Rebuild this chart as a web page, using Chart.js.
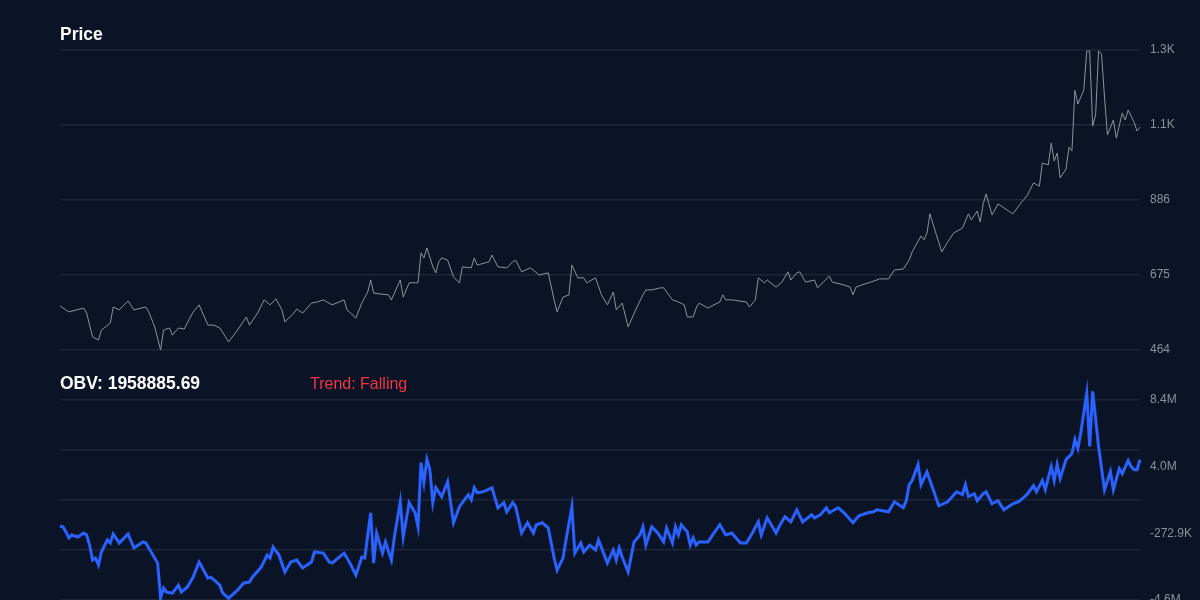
<!DOCTYPE html>
<html>
<head>
<meta charset="utf-8">
<script src="https://cdn.jsdelivr.net/npm/chart.js@4.4.1/dist/chart.umd.min.js"></script>
<style>
  html, body { margin: 0; padding: 0; background: #0b1426; overflow: hidden; width: 1200px; height: 600px; }
  body { position: relative; font-family: "Liberation Sans", Arial, sans-serif; }
  .box { position: absolute; left: 0; width: 1200px; }
  #priceBox { top: 0; height: 370px; }
  #obvBox { top: 380px; height: 240px; }
  .lbl { position: absolute; color: #fff; font-weight: bold; font-size: 17.5px; }
  #trend { color: #f23645; font-weight: normal; font-size: 16px; }
</style>
</head>
<body>
<div class="box" id="priceBox"><canvas id="priceChart"></canvas></div>
<div class="box" id="obvBox"><canvas id="obvChart"></canvas></div>
<div class="lbl" style="left:60px;top:24px;">Price</div>
<div class="lbl" style="left:60px;top:373px;">OBV: 1958885.69</div>
<div class="lbl" id="trend" style="left:310px;top:375px;">Trend: Falling</div>
<script>
/* ===== DATA ===== */
const priceDays = [0,3,8,9,11,13,14,17,18,20,23,25,29,30,32,34,35,37,38,40,42,43,45,47,50,52,54,57,60,63,64,67,69,71,73,75,76,79,80,82,85,87,89,92,96,97,100,102,104,105,106,111,112,115,116,118,121,122,123,124,126,127,128,129,131,133,135,136,139,140,141,145,146,148,151,153,154,156,159,162,165,167,168,170,172,173,175,177,178,181,183,185,187,188,190,192,195,197,198,200,203,204,207,209,211,212,214,215,216,219,221,223,224,225,227,232,233,235,236,238,239,242,244,246,247,249,250,252,255,256,258,260,261,265,267,268,269,271,274,277,280,282,285,287,288,291,292,293,294,296,298,300,302,305,307,308,310,311,312,313,315,317,319,322,325,327,329,331,332,334,335,336,337,338,340,341,342,343,344,346,347,348,349,350,351,352,353,354,356,357,359,360,361,363,364,365];
const priceValues = [588,571,582,568,501,492,520,540,585,577,602,577,585,571,529,464,520,526,506,526,523,540,571,591,534,534,526,487,520,557,534,571,605,591,608,577,543,568,579,568,596,599,605,591,605,577,554,596,627,661,624,619,605,661,613,653,653,737,723,751,698,681,712,723,717,669,653,698,695,723,703,712,731,698,695,712,717,684,695,675,681,605,571,613,619,703,667,667,653,667,619,591,627,577,596,529,585,619,633,633,639,639,605,599,591,557,557,582,596,582,591,599,619,605,605,599,585,605,667,653,661,641,655,684,661,681,684,655,661,639,655,672,655,647,641,619,641,647,655,664,664,689,692,717,740,785,774,793,847,793,740,768,793,807,847,830,855,824,875,903,844,875,864,847,880,900,934,925,990,985,1046,996,1018,948,973,1035,1024,1195,1156,1195,1305,1305,1094,1125,1305,1297,1176,1069,1111,1060,1131,1111,1139,1105,1080,1091];

const obvDays = [0,1,2,3,4,6,8,9,10,11,12,13,14,16,17,18,20,23,25,28,29,30,33,34,35,36,38,40,41,43,45,47,50,51,54,55,57,60,62,64,65,68,70,71,72,74,76,78,80,82,85,86,89,91,92,96,98,100,102,103,105,106,107,109,110,112,113,115,116,118,120,121,122,123,124,125,126,127,129,131,133,135,138,139,140,141,143,146,148,150,151,153,154,156,158,160,161,163,165,167,168,170,171,173,174,176,177,179,181,182,185,187,188,189,190,192,194,196,197,198,200,202,204,205,207,208,209,210,212,213,214,215,216,219,221,223,225,227,230,232,234,236,237,239,242,243,245,247,249,251,254,255,257,259,260,263,265,268,270,273,275,276,278,280,282,283,285,286,287,288,290,291,293,297,300,303,305,306,307,309,310,312,313,315,317,319,322,324,326,327,329,330,332,333,335,336,337,338,340,342,343,344,345,347,348,349,351,353,355,356,358,359,361,362,363,364,365];
const obvValues = [0.2,0.15,-0.18,-0.57,-0.38,-0.51,-0.25,-0.38,-1.03,-2.0,-1.87,-2.33,-1.48,-0.7,-0.9,-0.31,-0.9,-0.31,-1.22,-0.83,-0.9,-1.22,-2.2,-4.47,-3.82,-4.08,-4.15,-3.63,-4.08,-3.76,-3.11,-2.13,-3.17,-3.11,-3.63,-4.15,-4.47,-3.95,-3.5,-3.43,-3.11,-2.46,-1.68,-1.87,-1.16,-1.68,-2.78,-2.13,-2.0,-2.52,-2.13,-1.48,-1.55,-2.13,-2.2,-1.55,-2.2,-2.98,-1.81,-1.87,1.06,-2.2,-0.25,-1.55,-0.83,-2.0,-0.51,1.77,-0.51,1.71,1.06,0.15,4.31,3.01,4.5,3.85,1.71,2.68,2.1,3.07,0.41,1.45,2.23,1.9,2.68,2.36,2.42,2.68,1.38,1.71,1.12,1.71,1.45,-0.25,0.41,-0.25,0.28,0.41,0.08,-1.87,-2.65,-1.87,-0.7,1.45,-1.55,-0.9,-1.48,-1.03,-1.35,-0.7,-2.2,-1.35,-2.0,-1.22,-1.81,-2.78,-0.83,-0.38,0.15,-1.03,0.15,-0.25,-0.83,0.08,-0.9,0.15,-0.38,0.28,-0.18,-1.03,-0.57,-1.03,-0.83,-0.83,-0.25,0.28,-0.38,-0.25,-0.9,-0.9,-0.25,0.47,-0.38,0.73,-0.25,0.15,0.8,0.47,1.25,0.47,0.93,0.73,0.93,1.38,1.06,1.38,1.06,0.41,0.86,1.06,1.12,1.25,1.19,1.12,1.77,1.64,1.38,1.84,2.88,3.14,4.18,2.88,3.72,1.51,1.77,2.42,2.23,2.88,2.1,2.29,1.84,2.29,2.42,1.64,1.84,1.25,1.64,1.77,2.1,2.29,2.81,2.42,3.14,2.55,4.05,3.14,4.18,3.27,4.5,4.89,5.8,5.22,6.26,8.79,5.35,8.92,5.35,2.55,3.72,2.55,3.92,3.59,4.44,4.05,3.85,3.85,4.5];

const priceTicks = [464, 675, 886, 1097, 1308];
const obvMin = -4589350, obvMax = 8360000;
const obvTicks = [8360000, 4043550, -272900, -4589350];

/* ===== HELPERS ===== */
const gridColor = "#1d2739";
const tickColor = "#8a919e";
const tickFont = { family: "Liberation Sans", size: 12 };

function fmt(v) {
  const a = Math.abs(v);
  if (a >= 1e6) return (v / 1e6).toFixed(1) + "M";
  if (a >= 1e3) return (v / 1e3).toFixed(1) + "K";
  return String(Math.round(v));
}

function fixedTicks(list) {
  return axis => { axis.ticks = list.map(v => ({ value: v })); };
}

const xAxis = { type: "linear", min: 0, max: 365, display: false };

/* ===== PRICE ===== */
new Chart(document.getElementById("priceChart"), {
  type: "line",
  data: {
    datasets: [{
      data: priceDays.map((d, i) => ({ x: d, y: priceValues[i] })),
      borderColor: "#8e929b",
      borderWidth: 1,
      pointRadius: 0,
      tension: 0,
      clip: false
    }]
  },
  options: {
    responsive: true, maintainAspectRatio: false, animation: false,
    layout: { padding: { left: 60, top: 50, bottom: 20, right: 0 } },
    plugins: { legend: { display: false }, tooltip: { enabled: false } },
    scales: {
      x: xAxis,
      y: {
        position: "right", min: 464, max: 1308,
        afterBuildTicks: fixedTicks(priceTicks),
        afterFit: s => { s.width = 60; },
        grid: { color: gridColor, lineWidth: 1.5, drawTicks: false },
        border: { display: false },
        ticks: { color: tickColor, font: tickFont, padding: 10, callback: v => fmt(v) }
      }
    }
  }
});

/* ===== OBV ===== */
const gridStep = (obvMax - obvMin) / 4;
new Chart(document.getElementById("obvChart"), {
  type: "line",
  data: {
    datasets: [{
      data: obvDays.map((d, i) => ({ x: d, y: obvValues[i] * 1e6 })),
      borderColor: "#2962ff",
      borderWidth: 3,
      pointRadius: 0,
      tension: 0,
      clip: false
    }]
  },
  options: {
    responsive: true, maintainAspectRatio: false, animation: false,
    layout: { padding: { left: 60, top: 20, bottom: 20, right: 0 } },
    plugins: { legend: { display: false }, tooltip: { enabled: false } },
    scales: {
      x: xAxis,
      y: {
        position: "right", min: obvMin, max: obvMax,
        afterBuildTicks: fixedTicks([0, 1, 2, 3, 4].map(i => obvMin + i * gridStep)),
        afterFit: s => { s.width = 0; },
        grid: { color: gridColor, lineWidth: 1.5, drawTicks: false },
        border: { display: false },
        ticks: { display: false }
      },
      y2: {
        position: "right", min: obvMin, max: obvMax,
        afterBuildTicks: fixedTicks(obvTicks),
        afterFit: s => { s.width = 60; },
        grid: { display: false },
        border: { display: false },
        ticks: { color: tickColor, font: tickFont, padding: 2, callback: v => fmt(v) }
      }
    }
  }
});
</script>
</body>
</html>
